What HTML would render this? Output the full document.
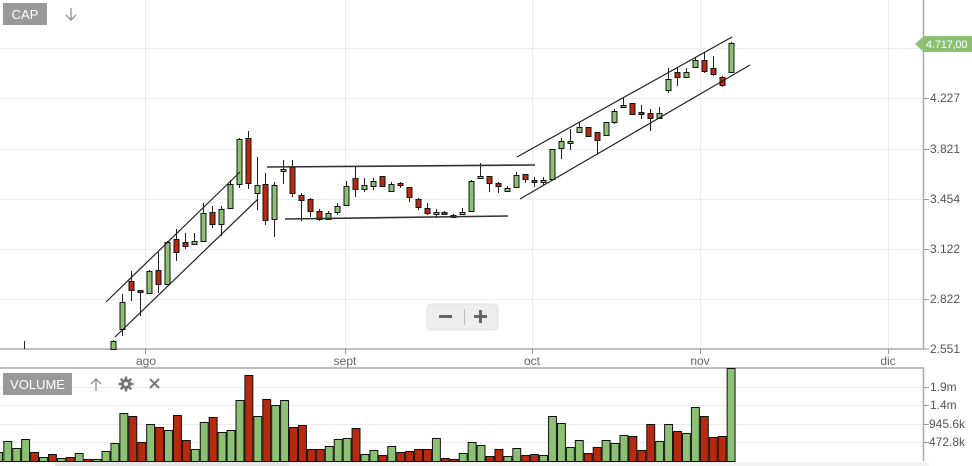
<!DOCTYPE html>
<html><head><meta charset="utf-8">
<style>
html,body{margin:0;padding:0;background:#fff;width:972px;height:466px;overflow:hidden;font-family:"Liberation Sans",sans-serif}
svg{position:absolute;left:0;top:0}
</style></head>
<body>
<svg id="s" width="972" height="466" xmlns="http://www.w3.org/2000/svg" font-family="Liberation Sans, sans-serif">
<g stroke="#ececec" stroke-width="1">
<line x1="0" y1="48.5" x2="923" y2="48.5"/><line x1="0" y1="98.5" x2="923" y2="98.5"/>
<line x1="0" y1="149.5" x2="923" y2="149.5"/><line x1="0" y1="199.5" x2="923" y2="199.5"/>
<line x1="0" y1="249.5" x2="923" y2="249.5"/><line x1="0" y1="299.5" x2="923" y2="299.5"/>
<line x1="145.5" y1="0" x2="145.5" y2="349"/><line x1="345.5" y1="0" x2="345.5" y2="349"/>
<line x1="532.5" y1="0" x2="532.5" y2="349"/><line x1="700.5" y1="0" x2="700.5" y2="349"/>
<line x1="888.5" y1="0" x2="888.5" y2="349"/>
<line x1="0" y1="387.5" x2="923" y2="387.5"/><line x1="0" y1="405.5" x2="923" y2="405.5"/>
<line x1="0" y1="424.5" x2="923" y2="424.5"/><line x1="0" y1="442.5" x2="923" y2="442.5"/>
</g>
<g stroke="#aaa" stroke-width="1.5">
<line x1="0" y1="349" x2="924" y2="349"/>
<line x1="923.5" y1="0" x2="923.5" y2="349"/>
<line x1="0" y1="368" x2="924" y2="368"/>
<line x1="923.5" y1="368" x2="923.5" y2="461"/>
</g>
<g stroke="#999" stroke-width="1">
<line x1="145.5" y1="349" x2="145.5" y2="354"/><line x1="345.5" y1="349" x2="345.5" y2="354"/>
<line x1="532.5" y1="349" x2="532.5" y2="354"/><line x1="700.5" y1="349" x2="700.5" y2="354"/>
<line x1="888.5" y1="349" x2="888.5" y2="354"/>
<line x1="924" y1="98.5" x2="929" y2="98.5"/><line x1="924" y1="149.5" x2="929" y2="149.5"/>
<line x1="924" y1="199.5" x2="929" y2="199.5"/><line x1="924" y1="249.5" x2="929" y2="249.5"/>
<line x1="924" y1="299.5" x2="929" y2="299.5"/><line x1="924" y1="349" x2="929" y2="349"/>
<line x1="924" y1="387.5" x2="929" y2="387.5"/><line x1="924" y1="405.5" x2="929" y2="405.5"/>
<line x1="924" y1="424.5" x2="929" y2="424.5"/><line x1="924" y1="442.5" x2="929" y2="442.5"/>
</g>
<g fill="#555" font-size="12">
<text x="930" y="102">4.227</text><text x="930" y="153">3.821</text><text x="930" y="203">3.454</text>
<text x="930" y="253">3.122</text><text x="930" y="303">2.822</text><text x="930" y="353">2.551</text>
<text x="930" y="391">1.9m</text><text x="930" y="409">1.4m</text><text x="929" y="428">945.6k</text><text x="929" y="446">472.8k</text>
</g>
<g fill="#666" font-size="12" text-anchor="middle">
<text x="146" y="365">ago</text><text x="345" y="365">sept</text><text x="532" y="365">oct</text>
<text x="700" y="365">nov</text><text x="888" y="365">dic</text>
</g>
<polygon points="915,44 924,36 972,36 972,52 924,52" fill="#8cc174"/>
<text x="926" y="48" fill="#fff" font-size="11" letter-spacing="-0.2">4.717,00</text>
<line x1="24.5" y1="341" x2="24.5" y2="349" stroke="#222"/>
<g id="vol"></g>
<g id="cdl"></g>
<g stroke="#222" stroke-width="1.2">
<line x1="106" y1="302" x2="240" y2="172"/><line x1="115" y1="337" x2="258" y2="199"/>
<line x1="517" y1="157" x2="732" y2="37"/><line x1="520" y1="199" x2="750" y2="65"/>
</g>
<g stroke="#333" stroke-width="1.6">
<line x1="267" y1="167" x2="535" y2="165"/><line x1="285" y1="219" x2="508" y2="216"/>
</g>
<rect x="3" y="3" width="44" height="22" fill="#999"/>
<text x="25" y="19" fill="#fff" font-size="13" text-anchor="middle">CAP</text>
<g stroke="#888" stroke-width="1.2" fill="none"><line x1="71" y1="8" x2="71" y2="20"/><polyline points="66,15 71,20 76,15"/></g>
<rect x="3" y="373" width="69" height="22" fill="#999"/>
<text x="37.5" y="389" fill="#fff" font-size="13" text-anchor="middle">VOLUME</text>
<g stroke="#888" stroke-width="1.2" fill="none"><line x1="96" y1="379" x2="96" y2="391"/><polyline points="91,384 96,379 101,384"/></g>
<g fill="#777"><circle cx="126" cy="384" r="5"/></g>
<g stroke="#777" stroke-width="2.5"><line x1="126" y1="376.5" x2="126" y2="391.5"/><line x1="118.5" y1="384" x2="133.5" y2="384"/><line x1="120.7" y1="378.7" x2="131.3" y2="389.3"/><line x1="131.3" y1="378.7" x2="120.7" y2="389.3"/></g>
<circle cx="126" cy="384" r="2" fill="#fff"/>
<g stroke="#777" stroke-width="2"><line x1="150" y1="379" x2="159" y2="388"/><line x1="159" y1="379" x2="150" y2="388"/></g>
<rect x="427" y="304" width="71" height="26" rx="4" fill="#eee" stroke="#e2e2e2"/>
<line x1="464.5" y1="309" x2="464.5" y2="325" stroke="#bbb"/>
<rect x="439" y="315" width="13" height="3" fill="#666"/>
<rect x="474" y="315" width="13" height="3" fill="#666"/><rect x="479" y="310" width="3" height="13" fill="#666"/>
<rect x="55" y="462" width="234" height="4" fill="#e6e6e6"/>
<rect x="289" y="462" width="640" height="4" fill="#f3f3f3"/>
</svg>
<script>
var G="#8cc174",R="#b72a0e",NS="http://www.w3.org/2000/svg";
function el(p,t,a){var e=document.createElementNS(NS,t);for(var k in a)e.setAttribute(k,a[k]);p.appendChild(e);}
var C=[[340,341,349,349,'g'],[294,302,329,336,'g'],[271,281,290,301,'r'],[291,290,292,316,'r'],[270,271,293,294,'g'],[252,270,284,293,'r'],[241,242,284,284,'g'],[229,239,252,261,'r'],[233,242,246,249,'r'],[233,241,244,244,'g'],[203,213,241,242,'g'],[206,212,224,228,'r'],[206,209,224,236,'g'],[180,184,208,209,'g'],[138,139,184,188,'g'],[131,138,183,189,'r'],[157,185,193,210,'g'],[173,184,220,225,'r'],[182,185,219,237,'g'],[160,169,171,184,'g'],[160,167,193,197,'r'],[193,195,200,221,'r'],[198,199,211,217,'r'],[209,211,219,221,'r'],[211,213,219,220,'g'],[203,206,212,215,'g'],[181,186,205,206,'g'],[166,178,189,197,'r'],[178,185,189,192,'g'],[178,181,186,190,'g'],[176,176,186,186,'r'],[182,184,191,192,'g'],[182,183,185,188,'r'],[187,187,197,202,'r'],[198,199,207,210,'r'],[203,208,213,215,'r'],[209,212,214,218,'g'],[211,212,214,215,'r'],[214,215,216,217,'r'],[208,212,214,215,'g'],[180,181,211,212,'g'],[163,176,178,179,'g'],[176,176,183,192,'r'],[182,183,186,193,'r'],[186,188,191,192,'g'],[172,175,187,188,'g'],[174,174,179,183,'r'],[177,180,182,187,'r'],[177,180,182,185,'g'],[149,149,179,180,'g'],[138,141,148,159,'g'],[129,141,143,150,'g'],[122,127,132,133,'g'],[127,127,136,136,'r'],[132,132,140,154,'r'],[122,122,135,135,'g'],[109,111,122,124,'g'],[98,105,107,108,'g'],[103,103,114,115,'r'],[105,112,114,119,'r'],[109,113,118,131,'r'],[107,113,118,119,'g'],[68,79,90,93,'g'],[68,72,77,86,'r'],[68,72,77,78,'g'],[57,60,67,68,'g'],[52,60,71,73,'r'],[56,68,74,76,'r'],[76,77,85,87,'r'],[42,43,72,73,'g']];
var V=[[452,'g'],[441,'g'],[448,'g'],[439,'g'],[452,'r'],[457,'g'],[454,'r'],[458,'g'],[457,'r'],[453,'g'],[459,'r'],[459,'g'],[451,'g'],[443,'g'],[413,'g'],[416,'g'],[442,'r'],[424,'g'],[427,'r'],[430,'g'],[415,'r'],[440,'g'],[449,'g'],[422,'g'],[417,'r'],[432,'g'],[430,'g'],[400,'g'],[375,'r'],[416,'r'],[399,'r'],[405,'g'],[400,'g'],[427,'r'],[425,'r'],[449,'r'],[449,'r'],[446,'g'],[439,'g'],[438,'g'],[428,'r'],[454,'g'],[450,'g'],[455,'r'],[446,'g'],[452,'r'],[451,'r'],[449,'r'],[449,'r'],[438,'g'],[458,'r'],[459,'r'],[453,'g'],[442,'g'],[445,'g'],[456,'r'],[449,'r'],[456,'r'],[448,'g'],[455,'r'],[454,'r'],[455,'g'],[416,'g'],[423,'g'],[447,'g'],[440,'g'],[453,'r'],[447,'r'],[440,'g'],[443,'g'],[435,'g'],[436,'r'],[450,'r'],[424,'r'],[441,'g'],[424,'g'],[431,'g'],[433,'g'],[407,'g'],[416,'r'],[437,'r'],[436,'r'],[368,'g']];
var vg=document.getElementById('vol');
for(var j=0;j<V.length;j++){var l=3.3+8.93*(j-1),w=8.93;if(j==0){l=-6;}
 var c=V[j][1];if(j>=13){c=C[j-13][4];}
 el(vg,'rect',{x:(l+0.5).toFixed(2),y:V[j][0]+0.5,width:(w-1).toFixed(2),height:(461-V[j][0]),fill:c=='g'?G:R,stroke:'#111','stroke-width':1});}
var cg=document.getElementById('cdl');
for(var i=0;i<C.length;i++){var x=Math.round(113.3+8.95*i)+0.5,d=C[i];
 el(cg,'line',{x1:x,y1:d[0],x2:x,y2:d[3],stroke:'#222','stroke-width':1});
 var h=Math.max(d[2]-d[1],2);
 el(cg,'rect',{x:x-2.5,y:d[1]+0.5,width:5,height:h,fill:d[4]=='g'?G:R,stroke:'#111','stroke-width':1});}
</script>
</body></html>
